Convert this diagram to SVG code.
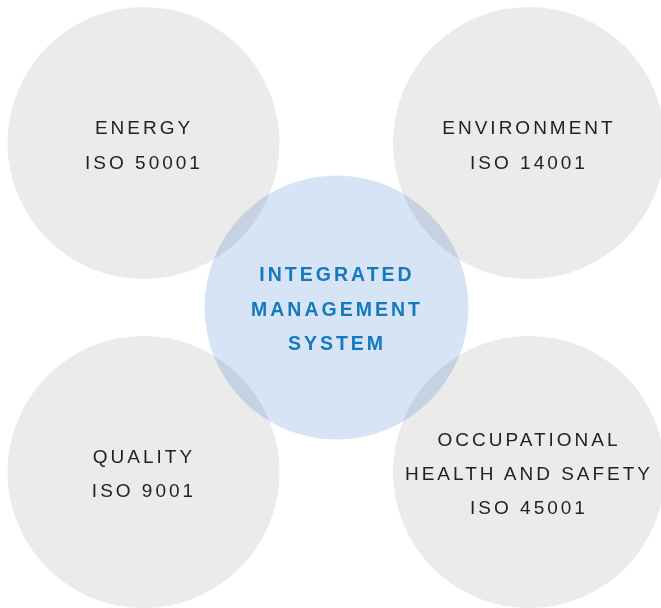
<svg xmlns="http://www.w3.org/2000/svg" width="661" height="608" viewBox="0 0 661 608">
<style>
.c{fill:#ebebeb}
.m{fill:#d7e4f6;mix-blend-mode:multiply}
.t{font-family:"Liberation Sans",Arial,sans-serif;font-size:19px;letter-spacing:3px;fill:#222;text-anchor:middle}
.b{font-family:"Liberation Sans",Arial,sans-serif;font-size:19.5px;font-weight:bold;letter-spacing:3px;fill:#1479bd;text-anchor:middle}
</style>
<rect width="661" height="608" fill="#fff"/>
<g id="energy">
<circle class="c" cx="143.5" cy="143" r="136"/>
<text class="t" x="144" y="134">ENERGY</text>
<text class="t" x="144" y="169">ISO 50001</text>
</g>
<g id="environment">
<circle class="c" cx="529" cy="143" r="136"/>
<text class="t" x="529" y="134">ENVIRONMENT</text>
<text class="t" x="529" y="169">ISO 14001</text>
</g>
<g id="quality">
<circle class="c" cx="143.5" cy="472" r="136"/>
<text class="t" x="144" y="463">QUALITY</text>
<text class="t" x="144" y="497">ISO 9001</text>
</g>
<g id="ohs">
<circle class="c" cx="529" cy="472" r="136"/>
<text class="t" x="529" y="446">OCCUPATIONAL</text>
<text class="t" x="529" y="480">HEALTH AND SAFETY</text>
<text class="t" x="529" y="514">ISO 45001</text>
</g>
<g id="ims">
<circle class="m" cx="336.5" cy="307.5" r="132"/>
<text class="b" x="337" y="281">INTEGRATED</text>
<text class="b" x="337" y="316">MANAGEMENT</text>
<text class="b" x="337" y="350">SYSTEM</text>
</g>
<g id="connectors"/>
</svg>
